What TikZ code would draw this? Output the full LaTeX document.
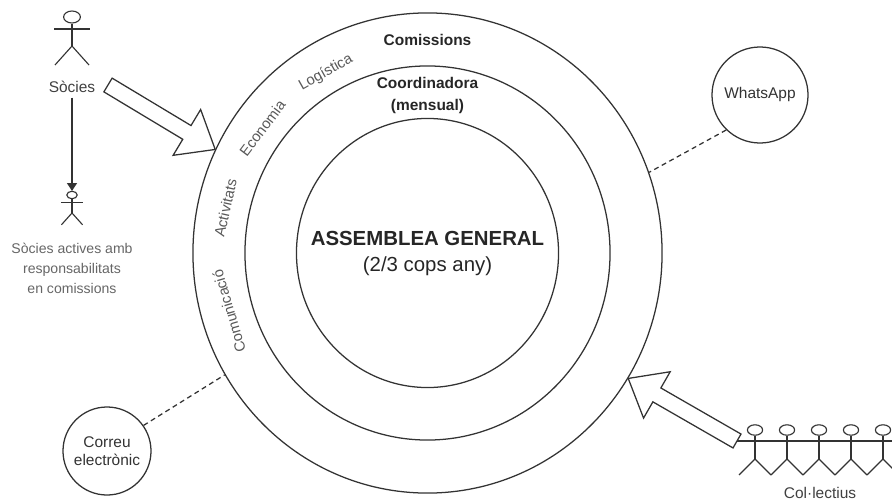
\documentclass[tikz,border=0pt]{standalone}
\usepackage{fontspec}
\setmainfont{Liberation Sans}
\usetikzlibrary{shapes.geometric}
\usetikzlibrary{calc}
\usetikzlibrary{arrows.meta}
\tikzset{>={Triangle[length=5.5pt, width=7pt]}}
\colorlet{linecol}{black!80}
\tikzset{
  ring/.style={draw=linecol, line width=0.9pt, ellipse, inner sep=0pt},
  ringtitle/.style={font=\fontsize{11}{15}\selectfont\bfseries, text=black!85, align=center},
  area/.style={font=\fontsize{10.5}{12}\selectfont, text=black!65, inner sep=0pt},
  channel/.style={draw=linecol, line width=0.9pt, circle, inner sep=0pt, align=center,
    font=\fontsize{11}{12.8}\selectfont, text=black!80},
  link/.style={draw=linecol, line width=0.9pt, dash pattern=on 3.5pt off 2.6pt},
  blockarrow/.style={draw=linecol, line width=0.9pt, fill=white, line join=miter},
  figure/.style={draw=linecol, line width=0.8pt},
  head/.style={figure, ellipse, inner sep=0pt, minimum width=0.42cm, minimum height=0.3cm},
  pics/actor/.style={code={
    \node[head] (-head) at (0,0) {};
    \draw[figure] (-18,-12) -- (18,-12);
    \draw[figure] (-head.south) -- (0,-29);
    \draw[figure] (-17,-48) -- (0,-29) -- (17,-48);
  }},
  pics/member/.style={code={
    \node[head, minimum width=0.38cm, minimum height=0.26cm] (-head) at (0,0) {};
    \draw[figure] (-head.south) -- (0,-29);
    \draw[figure] (-16,-45) -- (0,-29) -- (16,-45);
  }},
}
% hollow block arrow between two named points
\newcommand{\blockarrow}[2]{%
  \coordinate (ba-h) at ($(#2)!23.5pt!(#1)$);
  \draw[blockarrow] ($(#1)!5.7pt!90:(#2)$) -- ($(ba-h)!5.7pt!90:(#2)$)
    -- ($(ba-h)!19pt!90:(#2)$) -- (#2) -- ($(ba-h)!19pt!-90:(#2)$)
    -- ($(ba-h)!5.7pt!-90:(#2)$) -- ($(#1)!5.7pt!-90:(#2)$) -- cycle;
}

\begin{document}
\begin{tikzpicture}[x=0.025cm, y=0.025cm]
  \clip (0,0) rectangle (892,502);
  \coordinate (c) at (427.5,249);
  % rings
  \node[ring, minimum width=11.725cm, minimum height=12cm] (outer) at (c) {};
  \node[ring, minimum width=9.125cm, minimum height=9.35cm] (middle) at (c) {};
  \node[ring, minimum width=6.55cm, minimum height=6.725cm] (inner) at (c) {};
  \node[align=center, font=\fontsize{14.5}{18.5}\selectfont, text=black!85] (assembly) at (c)
    {\textbf{ASSEMBLEA GENERAL}\\(2/3 cops any)};
  \node[ringtitle] (comissions) at (427.5,462) {Comissions};
  \node[ringtitle] (coord) at (427.5,406.5) {Coordinadora\\(mensual)};
  \foreach \ang/\txt [count=\k] in {119.4/Logística, 142.9/Economia,
      167.4/Activitats, 196.4/Comunicació}
    \node[area, rotate=\ang-90] (area\k) at ($(c)+(\ang:207)$) {\txt};

  % socies
  \pic (soc) at (72,485) {actor};
  \node[font=\fontsize{11}{13}\selectfont, text=black!75] (socies) at (72,415) {Sòcies};
  \pic[scale=0.62, transform shape] (act) at (72,307) {actor};
  \node[font=\fontsize{10}{14.2}\selectfont, text=black!60, align=center] (actives) at (72,234)
    {Sòcies actives amb\\responsabilitats\\en comissions};
  \draw[figure, ->] (socies) -- (act-head);
  \coordinate (soc-tail) at (108,417);
  \blockarrow{soc-tail}{outer.154}

  % channels
  \node[channel, minimum size=2.4cm] (whatsapp) at (760,407) {WhatsApp};
  \node[channel, minimum size=2.2cm] (correu) at (107,51) {Correu\\electrònic};
  \draw[link] (whatsapp.226) -- (outer.20);
  \draw[link] (correu.35) -- (outer.211);

  % col.lectius
  \coordinate (col-tail) at (737,61);
  \draw[figure] (col-tail) -- ++(170,0);
  \foreach \i in {0,...,4}
    \pic (mem\i) at (755+32*\i,72) {member};
  \node[font=\fontsize{11}{13}\selectfont, text=black!75] (collectius) at (820,9) {Col·lectius};
  \blockarrow{col-tail}{outer.-32}
\end{tikzpicture}
\end{document}
